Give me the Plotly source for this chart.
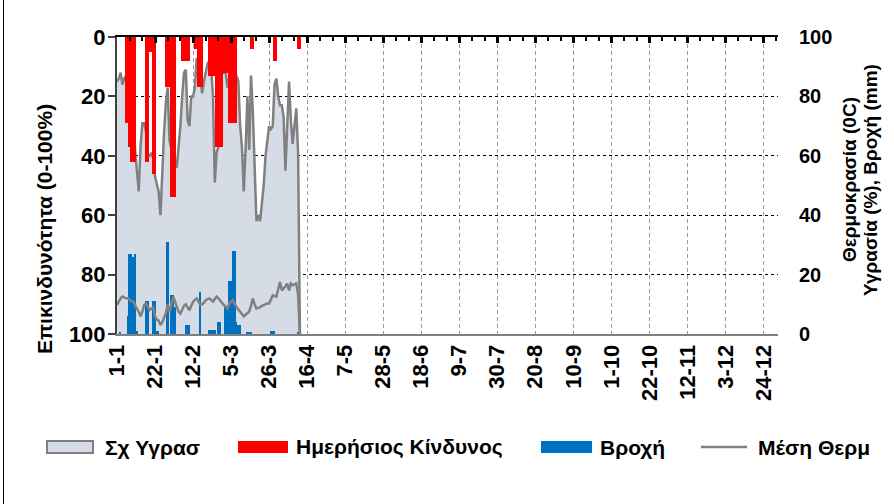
import plotly.graph_objects as go

# ---------------- data ----------------
tick_days = [0, 21, 42, 63, 84, 105, 126, 147, 168, 189, 210, 231, 252, 273, 294, 315, 336, 357]
tick_labels = ["1-1", "22-1", "12-2", "5-3", "26-3", "16-4", "7-5", "28-5", "18-6", "9-7",
               "30-7", "20-8", "10-9", "1-10", "22-10", "12-11", "3-12", "24-12"]

# relative humidity (%), right axis, days 0..101
humidity = [85, 86, 88, 84, 86, 87, 85, 88, 84, 80, 62, 55, 48, 63, 71, 71, 68, 60, 60, 61,
            59, 53, 50, 48, 40, 55, 68, 78, 83, 65, 62, 60, 59, 56, 63, 70, 80, 88, 89, 72,
            70, 80, 80, 83, 93, 85, 87, 81, 85, 88, 91, 92, 90, 80, 51, 61, 63, 83, 88, 88,
            88, 83, 86, 84, 85, 80, 87, 85, 70, 63, 48, 62, 80, 62, 87, 75, 58, 38, 40, 38,
            44, 50, 60, 66, 70, 69, 70, 84, 86, 80, 77, 77, 73, 55, 70, 85, 72, 64, 70, 76,
            61, 0]

# mean temperature (C), right axis, days 0..101
temperature = [9.8, 11, 12, 12.6, 12.3, 12, 12, 11.5, 11, 10.9, 9.5, 8.5, 7.5, 6, 7.5, 9.8, 10.3, 9, 8.1, 8.5,
               9, 6, 4.8, 4.5, 3, 4, 5.5, 7, 10, 7.2, 10, 12.6, 11, 9, 7.5, 6.9, 8.5, 9.5, 10, 9,
               8, 9.5, 10.8, 11.5, 12, 11, 9.8, 10, 10.5, 11.4, 11.8, 12, 11.5, 10.9, 11.8, 12.6, 12, 11.4, 10.5, 9.8,
               9, 8.6, 10.3, 11, 11.4, 10, 9, 8.2, 7.5, 6.5, 5.9, 6.5, 7, 7.5, 9.5, 12, 10, 8.6, 8.8, 9,
               9.5, 9.8, 10.2, 10.3, 10.3, 11.5, 13, 12.8, 12.6, 15, 17.5, 14.7, 15.3, 16, 17, 14.7, 17, 16.4, 16.7, 17,
               13.2, 0]

# daily risk (0-100), left reversed axis, days 0..101
risk = [0, 0, 0, 0, 0, 29, 29, 37, 42, 42, 42, 0, 0, 0, 0, 0, 42, 42, 5, 5,
        46, 46, 0, 0, 0, 0, 0, 17, 17, 17, 54, 54, 54, 0, 0, 0, 8, 8, 8, 8,
        8, 0, 0, 4, 4, 17, 17, 17, 0, 0, 0, 13, 13, 13, 13, 37, 37, 37, 37, 12,
        12, 12, 29, 29, 29, 29, 29, 0, 0, 0, 0, 0, 0, 0, 4, 4, 0, 0, 0, 0,
        0, 0, 0, 0, 0, 0, 0, 8, 8, 0, 0, 0, 0, 0, 0, 0, 0, 0, 0, 0,
        4, 4]

# rainfall (mm), right axis, days 0..101
rain = [0, 0, 0.5, 0, 0, 0, 6, 27, 27, 26, 27, 1, 0, 0, 0, 0, 11, 11, 0, 0,
        11, 11, 1, 1, 0, 0, 0, 0, 31, 0, 13, 13, 9, 0, 0, 0, 0, 0, 3, 3,
        3, 0, 0, 0, 0, 0, 14, 0, 0, 0, 0, 1.5, 1.5, 1.5, 1.5, 0, 4, 4, 0, 0,
        9, 9, 18, 18, 28, 28, 4, 3, 3, 0, 0, 0, 0.5, 0.5, 0.5, 0, 0, 0, 0, 0,
        0, 0, 0, 0, 0, 1, 1, 1, 0, 0, 0, 0, 0, 0, 0, 0, 0, 0, 0, 0,
        0.5, 0]

days = list(range(len(humidity)))

names = ["Σχ Υγρασ", "Ημερήσιος Κίνδυνος", "Βροχή", "Μέση Θερμ"]
left_title = "Επικινδυνότητα (0-100%)"
right_title = ["Θερμοκρασία (0C)", "Υγρασία (%), Βροχή (mm)"]

fill_col = "#d6dce5"
grey = "#808080"
red = "#ff0000"
blue = "#0070c0"

FONT = "Liberation Sans, Arial, sans-serif"
def bf(size):
    return dict(family=FONT, size=size, color="black", weight="bold")

fig = go.Figure()
fig.add_trace(go.Scatter(x=days, y=humidity, name=names[0], mode="lines",
                         line=dict(color=grey, width=2.5), fill="tozeroy", fillcolor=fill_col,
                         xaxis="x", yaxis="y"))
fig.add_trace(go.Bar(x=days, y=risk, name=names[1], marker=dict(color=red, line=dict(width=0)),
                     width=0.9, xaxis="x2", yaxis="y2"))
fig.add_trace(go.Bar(x=days, y=rain, name=names[2], marker=dict(color=blue, line=dict(width=0)),
                     width=0.9, xaxis="x", yaxis="y3"))
fig.add_trace(go.Scatter(x=days, y=temperature, name=names[3], mode="lines",
                         line=dict(color=grey, width=2.5), xaxis="x", yaxis="y3"))

L, R, T, B = 117, 778, 37, 334
W, H = 894, 504
def px(x):
    return (x - L) / (R - L)
def py(y):
    return (B - y) / (B - T)

shapes = []
annotations = []
# left edge of the chart frame
shapes.append(dict(type="line", xref="paper", yref="paper", x0=px(3.5), x1=px(3.5), y0=py(0), y1=py(504),
                   line=dict(color="black", width=1), layer="above"))
# custom legend
ly = 447
sw = [(47, 93, 103), (238, 288, 294), (541, 592, 598), (701, 747, 756)]
styles = [dict(fillcolor=fill_col, line=dict(color=grey, width=2)),
          dict(fillcolor=red, line=dict(width=0)),
          dict(fillcolor=blue, line=dict(width=0))]
for i, (a, b, t) in enumerate(sw):
    if i < 3:
        shapes.append(dict(type="rect", xref="paper", yref="paper", x0=px(a), x1=px(b),
                           y0=py(ly + 6), y1=py(ly - 6), **styles[i]))
    else:
        shapes.append(dict(type="line", xref="paper", yref="paper", x0=px(a), x1=px(b),
                           y0=py(ly), y1=py(ly), line=dict(color=grey, width=2.5)))
    annotations.append(dict(text=names[i], xref="paper", yref="paper", x=px(t), y=py(ly),
                            xanchor="left", yanchor="middle", showarrow=False, font=bf(21)))

# axis titles
annotations.append(dict(text=left_title, xref="paper", yref="paper", x=px(45), y=py(229),
                        textangle=-90, xanchor="center", yanchor="middle", showarrow=False, font=bf(21)))
for xpos, txt in zip([849, 870], right_title):
    annotations.append(dict(text=txt, xref="paper", yref="paper", x=px(xpos), y=py(180),
                            textangle=-90, xanchor="center", yanchor="middle", showarrow=False, font=bf(19)))

fig.update_layout(
    width=W, height=H,
    margin=dict(l=L, r=W - R, t=T, b=H - B, autoexpand=False),
    paper_bgcolor="white", plot_bgcolor="white",
    showlegend=False, barmode="overlay", bargap=0,
    font=bf(20),
    xaxis=dict(range=[0, 365], tickmode="array", tickvals=tick_days, ticktext=tick_labels,
               tickangle=-90, ticks="", tickfont=bf(22), showgrid=True, gridcolor="#9a9a9a",
               griddash="4px,3px", gridwidth=1, showline=True, linecolor=grey, linewidth=2,
               zeroline=False, automargin=False),
    xaxis2=dict(overlaying="x", side="top", range=[0, 365], tickmode="linear", tick0=0, dtick=21,
                ticks="inside", ticklen=6, tickwidth=2.5, tickcolor="black",
                minor=dict(dtick=7, tick0=0, ticks="inside", ticklen=4, tickwidth=1.5, tickcolor="black"),
                showticklabels=False, showgrid=False, showline=True, linecolor="black", linewidth=2,
                zeroline=False, automargin=False),
    yaxis=dict(side="right", range=[0, 100], tickmode="array", tickvals=[0, 20, 40, 60, 80, 100],
               tickfont=bf(20), ticks="", ticklabelstandoff=20, showgrid=True, gridcolor="black",
               griddash="dot", gridwidth=1, zeroline=False, showline=False, automargin=False),
    yaxis2=dict(overlaying="y", side="left", range=[100, 0], tickmode="array",
                tickvals=[0, 20, 40, 60, 80, 100], tickfont=bf(22), ticks="outside", ticklen=7,
                tickwidth=1.5, tickcolor="#404040", ticklabelstandoff=-2, showline=True,
                linecolor="#404040", linewidth=2, showgrid=False, zeroline=False, automargin=False),
    yaxis3=dict(overlaying="y", range=[0, 100], visible=False, showgrid=False, zeroline=False),
    shapes=shapes, annotations=annotations,
)

fig.write_html("out.html", config={"displayModeBar": False},
               post_script="document.body.style.margin='0';document.body.style.overflow='hidden';")
